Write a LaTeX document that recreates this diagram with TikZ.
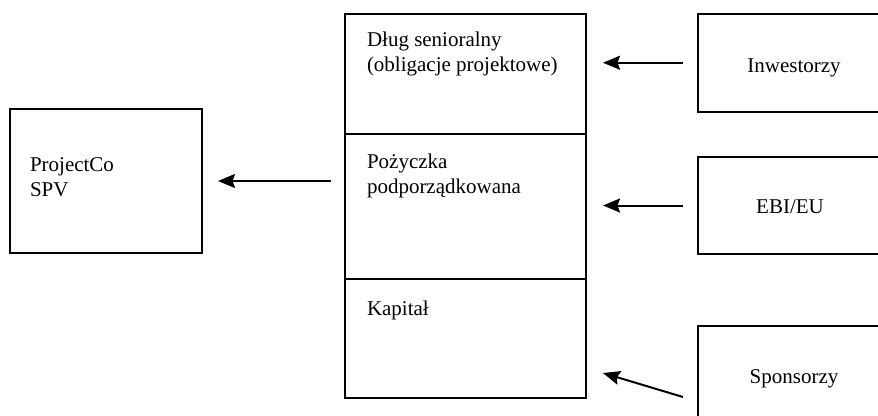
\documentclass[tikz,border=0pt]{standalone}
\usepackage{fontspec}
\setmainfont{Liberation Serif}
\usetikzlibrary{arrows.meta}
\tikzset{
  box/.style={draw=black, line width=2pt, rectangle, inner sep=0pt, outer sep=0pt},
  lbl/.style={inner sep=0pt, outer sep=0pt, anchor=base west, font=\fontsize{21}{25}\selectfont},
  clbl/.style={inner sep=0pt, outer sep=0pt, anchor=base, font=\fontsize{21}{25}\selectfont},
  arr/.style={line width=2pt, -{Stealth[length=17pt,width=14pt,inset=2.5pt]}},
}
\begin{document}
\begin{tikzpicture}[x=1pt,y=-1pt]
\useasboundingbox (0,0) rectangle (878,415);
\clip (0,0) rectangle (878,415);
% boxes
\node[box, minimum width=192pt, minimum height=144pt] (spv) at (106,181) {};
\node[box, minimum width=241pt, minimum height=120.5pt] (senior) at (465.5,73.75) {};
\node[box, minimum width=241pt, minimum height=145pt] (sub) at (465.5,206.5) {};
\node[box, minimum width=241pt, minimum height=119pt] (equity) at (465.5,338.5) {};
\node[box, minimum width=202pt, minimum height=98.5pt] (inw) at (799,62.75) {};
\node[box, minimum width=202pt, minimum height=97pt] (ebi) at (799,205.5) {};
\node[box, minimum width=202pt, minimum height=104pt] (spons) at (799,378) {};
% texts
\node[lbl] (tspv) at (30,171) {\begin{tabular}[t]{@{}l@{}}ProjectCo\\SPV\end{tabular}};
\node[lbl] (tsenior) at (367,46.5) {\begin{tabular}[t]{@{}l@{}}Dług senioralny\\(obligacje projektowe)\end{tabular}};
\node[lbl] (tsub) at (367,168) {\begin{tabular}[t]{@{}l@{}}Pożyczka\\podporządkowana\end{tabular}};
\node[lbl] (tequity) at (367,315) {Kapitał};
\node[clbl] (tinw) at (794,72.5) {Inwestorzy};
\node[clbl] (tebi) at (790,213) {EBI/EU};
\node[clbl] (tspons) at (794,383) {Sponsorzy};
% arrows
\draw[arr, shorten <=15pt, shorten >=17pt] (inw.west) -- (inw.west -| senior.east);
\draw[arr, shorten <=15pt, shorten >=17pt] (ebi.west) -- (ebi.west -| sub.east);
\coordinate (s3) at (683,397);
\coordinate (e3) at (603,373);
\draw[arr] (s3) -- (e3);
\draw[arr, shorten <=14pt, shorten >=16pt] (spv.east -| sub.west) -- (spv.east);
\end{tikzpicture}
\end{document}
